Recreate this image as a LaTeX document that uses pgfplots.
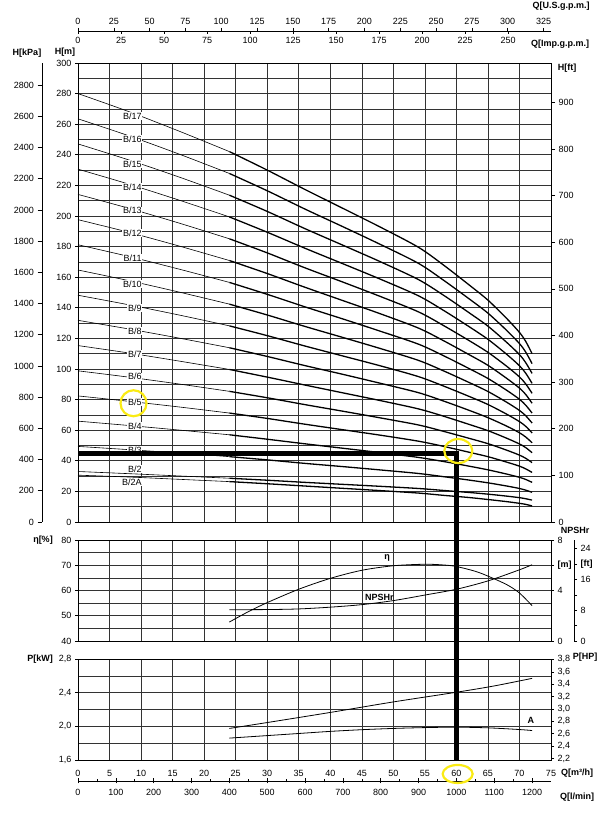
\documentclass[border=0pt]{standalone}
\usepackage{fontspec}
\setmainfont{Liberation Sans}
\usepackage{pgfplots}
\usepackage{pgfplotstable}
\pgfplotsset{compat=1.18}
\definecolor{gridc}{gray}{0.2}
\definecolor{hl}{RGB}{250,235,20}

\pgfplotstableread{
Q b17 b16 b15 b14 b13 b12 b11 b10 b9 b8 b7 b6 b5 b4 b3 b2 b2a
0  280.0 263.5 247.1 230.6 214.1 197.6 181.2 164.7 148.2 131.8 115.3 98.8 82.4 65.9 49.4 33.0 30.6
8  268.3 252.5 236.7 220.9 205.1 189.4 173.6 157.8 142.0 126.2 110.5 94.7 78.9 63.1 47.3 31.6 29.4
16 255.5 240.5 225.5 210.4 195.4 180.4 165.3 150.3 135.3 120.2 105.2 90.2 75.2 60.1 45.1 30.1 27.9
24 242.1 227.8 213.6 199.4 185.1 170.9 156.6 142.4 128.2 113.9 99.7 85.4 71.2 57.0 42.7 28.6 26.4
}\thintab

\pgfplotstableread{
Q b17 b16 b15 b14 b13 b12 b11 b10 b9 b8 b7 b6 b5 b4 b3 b2 b2a
24 242.1 227.8 213.6 199.4 185.1 170.9 156.6 142.4 128.2 113.9 99.7 85.4 71.2 57.0 42.7 28.6 26.4
30 230.0 216.5 203.0 189.4 175.9 162.4 148.8 135.3 121.8 108.2 94.7 81.2 67.7 54.1 40.6 27.3 25.0
36 217.3 204.5 191.7 178.9 166.1 153.4 140.6 127.8 115.0 102.2 89.5 76.7 63.9 51.1 38.3 25.9 23.5
42 205.0 193.0 180.9 168.8 156.8 144.7 132.7 120.6 108.5 96.5 84.4 72.4 60.3 48.2 36.2 24.6 22.0
48 192.6 181.3 170.0 158.6 147.3 136.0 124.6 113.3 102.0 90.6 79.3 68.0 56.7 45.3 34.0 23.3 20.5
54 179.5 169.0 158.4 147.8 137.3 126.7 116.2 105.6 95.0 84.5 73.9 63.4 52.8 42.2 31.7 21.9 18.9
58 167.8 157.9 148.1 138.2 128.3 118.4 108.6 98.7 88.8 79.0 69.1 59.2 49.4 39.5 29.6 20.6 17.4
62 155.0 145.9 136.8 127.7 118.6 109.4 100.3 91.2 82.1 73.0 63.8 54.7 45.6 36.5 27.4 19.3 16.0
65 145.0 136.5 128.0 119.4 110.9 102.4 93.8 85.3 76.8 68.2 59.7 51.2 42.7 34.1 25.6 18.2 14.7
68 132.9 125.1 117.3 109.5 101.7 93.8 86.0 78.2 70.4 62.6 54.7 46.9 39.1 31.3 23.5 16.9 13.3
70 123.9 116.6 109.4 102.1 94.8 87.5 80.2 72.9 65.6 58.3 51.0 43.7 36.5 29.2 21.9 15.9 12.2
71 118.0 111.0 104.1 97.2 90.2 83.3 76.3 69.4 62.5 55.5 48.6 41.6 34.7 27.8 20.8 15.2 11.5
72 110.0 103.5 97.1 90.6 84.1 77.6 71.2 64.7 58.2 51.8 45.3 38.8 32.4 25.9 19.4 14.3 10.5
}\thicktab

\tikzset{
  comma1/.style={/pgf/number format/.cd, use comma, fixed, fixed zerofill, precision=1},
  lab/.style={font=\fontsize{9}{10}\selectfont, fill=white, inner sep=0.6pt, anchor=east},
  ttl/.style={font=\bfseries\fontsize{9}{10}\selectfont, inner sep=0pt},
}
\pgfplotsset{
  base/.style={scale only axis, width=473pt, xmin=0, xmax=75,
    /pgf/number format/assume math mode=true,
    /pgf/number format/1000 sep={},
    tick label style={font=\fontsize{9}{10}\selectfont},
    axis line style={-, line width=0.7pt},
    tick style={black, line width=0.6pt},
    tick align=outside, major tick length=4pt, minor tick length=0pt},
  panel/.style={base, xtick={0,5,...,75}, xmajorgrids, ymajorgrids, yminorgrids,
    major grid style={gridc, line width=0.6pt},
    minor grid style={gridc, line width=0.6pt},
    xtick style={draw=none}, ytick pos=left, major tick length=3pt,
    clip=false},
}

\begin{document}
\begin{tikzpicture}
\path[use as bounding box] (0,0) rectangle (615pt,813pt);

% ---------- top flow axes
\begin{axis}[base, at={(78pt,782pt)}, anchor=north west, height=2pt,
  xmin=0, xmax=330.215, ymin=0, ymax=1, hide y axis, axis x line*=top,
  xtick={0,25,...,325}, major tick length=3pt]
\end{axis}
\begin{axis}[base, at={(78pt,782pt)}, anchor=south west, height=2pt,
  xmin=0, xmax=274.962, ymin=0, ymax=1, hide y axis, axis x line*=bottom,
  xtick={0,25,...,250}, major tick length=3pt]
\end{axis}

% ---------- H panel
\begin{axis}[panel, at={(78pt,291pt)}, anchor=south west, height=459pt,
  ymin=0, ymax=300, ytick={0,20,...,300}, minor ytick={10,30,...,290},
  xticklabels={}]
\pgfplotsinvokeforeach{b17,b16,b15,b14,b13,b12,b11,b10,b9,b8,b7,b6,b5,b4,b3,b2,b2a}{
  \addplot[black, line width=0.6pt, smooth] table[x=Q, y=#1]{\thintab};
  \addplot[black, line width=1.3pt, smooth] table[x=Q, y=#1]{\thicktab};
}
\node[lab] at (axis cs:10.2,265.4) {B/17};
\node[lab] at (axis cs:10.2,250.1) {B/16};
\node[lab] at (axis cs:10.2,234.0) {B/15};
\node[lab] at (axis cs:10.2,218.7) {B/14};
\node[lab] at (axis cs:10.2,203.5) {B/13};
\node[lab] at (axis cs:10.2,188.7) {B/12};
\node[lab] at (axis cs:10.2,172.3) {B/11};
\node[lab] at (axis cs:10.2,155.4) {B/10};
\node[lab] at (axis cs:10.2,139.7) {B/9};
\node[lab] at (axis cs:10.2,124.8) {B/8};
\node[lab] at (axis cs:10.2,109.6) {B/7};
\node[lab] at (axis cs:10.2,95.0) {B/6};
\node[lab] at (axis cs:10.2,78.2) {B/5};
\node[lab] at (axis cs:10.2,62.7) {B/4};
\node[lab] at (axis cs:10.2,47.0) {B/3};
\node[lab] at (axis cs:10.2,34.6) {B/2};
\node[lab] at (axis cs:10.2,26.0) {B/2A};
\coordinate (selO) at (axis cs:0,45);
\coordinate (selA) at (axis cs:60,45);
\coordinate (c1) at (axis cs:8.8,77.6);
\coordinate (c2) at (axis cs:60.3,46.4);
\end{axis}
\begin{axis}[base, at={(78pt,291pt)}, anchor=south west, height=459pt,
  ymin=0, ymax=984.252, hide x axis, axis y line*=right,
  ytick={0,100,...,900}]
\end{axis}
\begin{axis}[base, width=1pt, at={(42pt,291pt)}, anchor=south west, height=459pt,
  ymin=0, ymax=2942, hide x axis, axis y line*=left,
  ytick={0,200,...,2800}, major tick length=4.5pt]
\end{axis}

% ---------- efficiency / NPSH panel
\begin{axis}[panel, at={(78pt,172pt)}, anchor=south west, height=101pt,
  ymin=40, ymax=80, ytick={40,50,...,80}, minor ytick={45,55,65,75},
  xticklabels={}]
\addplot[black, line width=0.8pt, smooth] coordinates {
 (24,47.5) (27,51.6) (30,55.2) (35,60.5) (40,64.8) (45,68.0) (50,69.8) (55,70.4)
 (58,70.1) (60,69.5) (63,67.6) (65,65.7) (68,62.3) (70,59.0) (72,54.0)};
\node[ttl] at (axis cs:49,73) {η};
\node[ttl] at (axis cs:47.8,57.2) {NPSHr};
\end{axis}
\begin{axis}[base, at={(78pt,172pt)}, anchor=south west, height=101pt,
  ymin=0, ymax=8, hide x axis, axis y line*=right, major tick length=3pt,
  ytick={0,4,6,8}, yticklabels={0,4,{\bfseries[m]},8}]
\addplot[black, line width=0.8pt, smooth] coordinates {
 (24,2.48) (30,2.49) (35,2.54) (40,2.68) (45,2.88) (50,3.20) (55,3.64)
 (60,4.10) (65,4.76) (70,5.64) (72,6.04)};
\end{axis}
\begin{axis}[base, width=1pt, at={(574pt,172pt)}, anchor=south east, height=101pt,
  ymin=0, ymax=26.247, hide x axis, axis y line*=right, major tick length=3pt,
  ytick={0,4,...,24}, yticklabels={0,,8,,16,{\bfseries[ft]},24}]
\end{axis}

% ---------- power panel
\begin{axis}[panel, at={(78pt,53pt)}, anchor=south west, height=101pt,
  ymin=1.6, ymax=2.8, ytick={1.6,2.0,2.4,2.8}, minor ytick={1.8,2.2,2.6},
  yticklabel style={comma1},
  xticklabel style={yshift=-4pt}]
\addplot[black, line width=0.8pt, smooth] coordinates {
 (24,1.975) (30,2.045) (40,2.165) (50,2.29) (60,2.405) (66,2.48) (72,2.57)};
\addplot[black, line width=0.8pt, smooth] coordinates {
 (24,1.86) (30,1.89) (35,1.915) (40,1.94) (45,1.96) (50,1.975) (55,1.985)
 (60,1.99) (65,1.982) (70,1.962) (72,1.95)};
\node[ttl] at (axis cs:71.8,2.065) {A};
\coordinate (selB) at (axis cs:60,1.6);
\coordinate (c3) at (axis cs:60.2,1.434);
\end{axis}
\begin{axis}[base, at={(78pt,53pt)}, anchor=south west, height=101pt,
  ymin=2.1754, ymax=3.8069, hide x axis, axis y line*=right, major tick length=3pt,
  ytick={2.2,2.4,2.6,2.8,3.0,3.2,3.4,3.6,3.8}, yticklabel style={comma1}]
\end{axis}

% ---------- l/min axis
\begin{axis}[base, at={(78pt,32pt)}, anchor=south west, height=2pt,
  xmin=0, xmax=1250, ymin=0, ymax=1, hide y axis, axis x line*=bottom,
  xtick={0,100,...,1200}, minor xtick={50,150,...,1150},
  tick align=center, major tick length=5pt, minor tick length=3pt,
  xticklabel style={yshift=-2pt}]
\end{axis}

% ---------- selection lines and highlights
\draw[line width=4.8pt, line join=miter] (selO) -- (selA) -- (selB);
\draw[hl, line width=2.2pt] (c1) ellipse [x radius=13pt, y radius=13pt];
\draw[hl, line width=2.2pt] (c2) ellipse [x radius=14pt, y radius=12pt];
\draw[hl, line width=2.2pt] (c3) ellipse [x radius=15pt, y radius=9pt];

% ---------- titles
\node[ttl] at (561pt,807pt) {Q[U.S.g.p.m.]};
\node[ttl] at (560pt,769pt) {Q[Imp.g.p.m.]};
\node[ttl] at (27pt,760pt) {H[kPa]};
\node[ttl] at (65pt,761pt) {H[m]};
\node[ttl] at (567pt,745pt) {H[ft]};
\node[ttl] at (43pt,273pt) {η[\%]};
\node[ttl] at (575pt,283pt) {NPSHr};
\node[ttl] at (40pt,154pt) {P[kW]};
\node[ttl] at (585pt,156pt) {P[HP]};
\node[ttl] at (577pt,40pt) {Q[m³/h]};
\node[ttl] at (577pt,16pt) {Q[l/min]};
\end{tikzpicture}
\end{document}
